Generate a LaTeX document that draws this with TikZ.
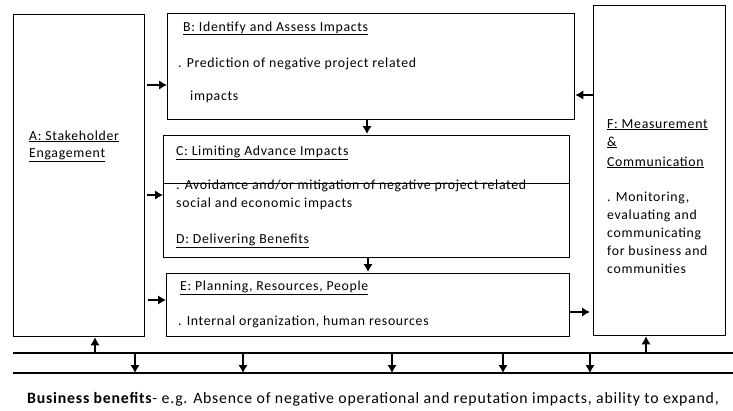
\documentclass[tikz,border=0pt]{standalone}
\usepackage{fontspec}
\setmainfont{Carlito}[LetterSpace=5]
\usetikzlibrary{arrows.meta,positioning}

\begin{document}
\begin{tikzpicture}[x=1pt,y=-1pt]
  \tikzstyle{element}=[rectangle, draw, line width=1.3pt, anchor=north west, inner sep=0pt]
  \tikzstyle{leadsto}=[-{Latex[length=8pt,width=9.5pt]}, line width=2pt]
  \tikzstyle{boxtext}=[anchor=base west, inner sep=0pt, font=\fontsize{13.8}{16}\selectfont]

  \useasboundingbox (0,0) rectangle (733,410);

  % the six boxes
  \node[element, minimum width=131pt, minimum height=322pt] (stakeholder) at (13,14) {};
  \node[element, minimum width=407pt, minimum height=106pt] (identify) at (167,13) {};
  \node[element, minimum width=406pt, minimum height=48pt] (limiting) at (163,135) {};
  \node[element, minimum width=406pt, minimum height=74pt] (delivering) at (163,183) {};
  \node[element, minimum width=403pt, minimum height=63pt] (planning) at (166,273) {};
  \node[element, minimum width=132pt, minimum height=330pt] (measurement) at (593,5) {};

  % texts
  \node[boxtext] (atitle) at (29,140) {\underline{A: Stakeholder}};
  \node[boxtext] (atitle2) at (29,157) {\underline{Engagement}};
  \node[boxtext] (btitle) at (183,31) {\underline{B: Identify and Assess Impacts}};
  \node[boxtext] (bbody) at (178,67) {. Prediction of negative project related};
  \node[boxtext] (bbody2) at (190,100) {impacts};
  \node[boxtext] (ctitle) at (176,155) {\underline{C: Limiting Advance Impacts}};
  \node[boxtext] (cbody) at (176,189) {. Avoidance and/or mitigation of negative project related};
  \node[boxtext] (cbody2) at (176,207) {social and economic impacts};
  \node[boxtext] (dtitle) at (176,243) {\underline{D: Delivering Benefits}};
  \node[boxtext] (etitle) at (180,290) {\underline{E: Planning, Resources, People}};
  \node[boxtext] (ebody) at (178,325) {. Internal organization, human resources};
  \node[boxtext] (ftitle) at (607,128) {\underline{F: Measurement}};
  \node[boxtext] (ftitle2) at (607,146) {\underline{\&}};
  \node[boxtext] (ftitle3) at (607,166) {\underline{Communication}};
  \foreach \t [count=\i] in {{. Monitoring,},{evaluating and},{communicating},{for business and},{communities}}
    \node[boxtext] (fbody\i) at (607,183+18*\i) {\t};

  % arrows between the boxes
  \coordinate (atob) at (0,85);
  \coordinate (atoc) at (0,195);
  \coordinate (atoe) at (0,300);
  \coordinate (ftob) at (0,95);
  \coordinate (etof) at (0,312);
  \coordinate (btoc) at (367,0);
  \coordinate (dtoe) at (368,0);
  \draw[leadsto, shorten <=2pt] (stakeholder.east |- atob) -- (identify.west |- atob);
  \draw[leadsto, shorten <=2pt] (stakeholder.east |- atoc) -- (limiting.west |- atoc);
  \draw[leadsto, shorten <=3pt] (stakeholder.east |- atoe) -- (planning.west |- atoe);
  \draw[leadsto] (measurement.west |- ftob) -- (identify.east |- ftob);
  \draw[leadsto, shorten >=3pt] (planning.east |- etof) -- (measurement.west |- etof);
  \draw[leadsto, shorten >=1pt] (identify.south -| btoc) -- (limiting.north -| btoc);
  \draw[leadsto, shorten >=1pt] (delivering.south -| dtoe) -- (planning.north -| dtoe);

  % bottom lines
  \coordinate (busw) at (13,353);
  \coordinate (buse) at (733,353);
  \coordinate (basew) at (13,373);
  \coordinate (basee) at (733,373);
  \draw[line width=2.8pt] (busw) -- (buse);
  \draw[line width=1.2pt] (basew) -- (basee);
  \coordinate (upa) at (95,353);
  \coordinate (upf) at (646,353);
  \draw[leadsto] (upa) -- (upa |- stakeholder.south);
  \draw[leadsto] (upf) -- (upf |- measurement.south);
  \foreach \x [count=\i] in {135,243,392,503,590}
    \coordinate (down\i) at (\x,353);
  \foreach \i in {1,...,5}
    \draw[leadsto] (down\i) -- (down\i |- basew);

  \node[anchor=base west, inner sep=0pt, font=\fontsize{15.8}{18}\selectfont] (benefits) at (27,403)
    {\textbf{Business benefits}- e.g. Absence of negative operational and reputation impacts, ability to expand,};
\end{tikzpicture}
\end{document}
